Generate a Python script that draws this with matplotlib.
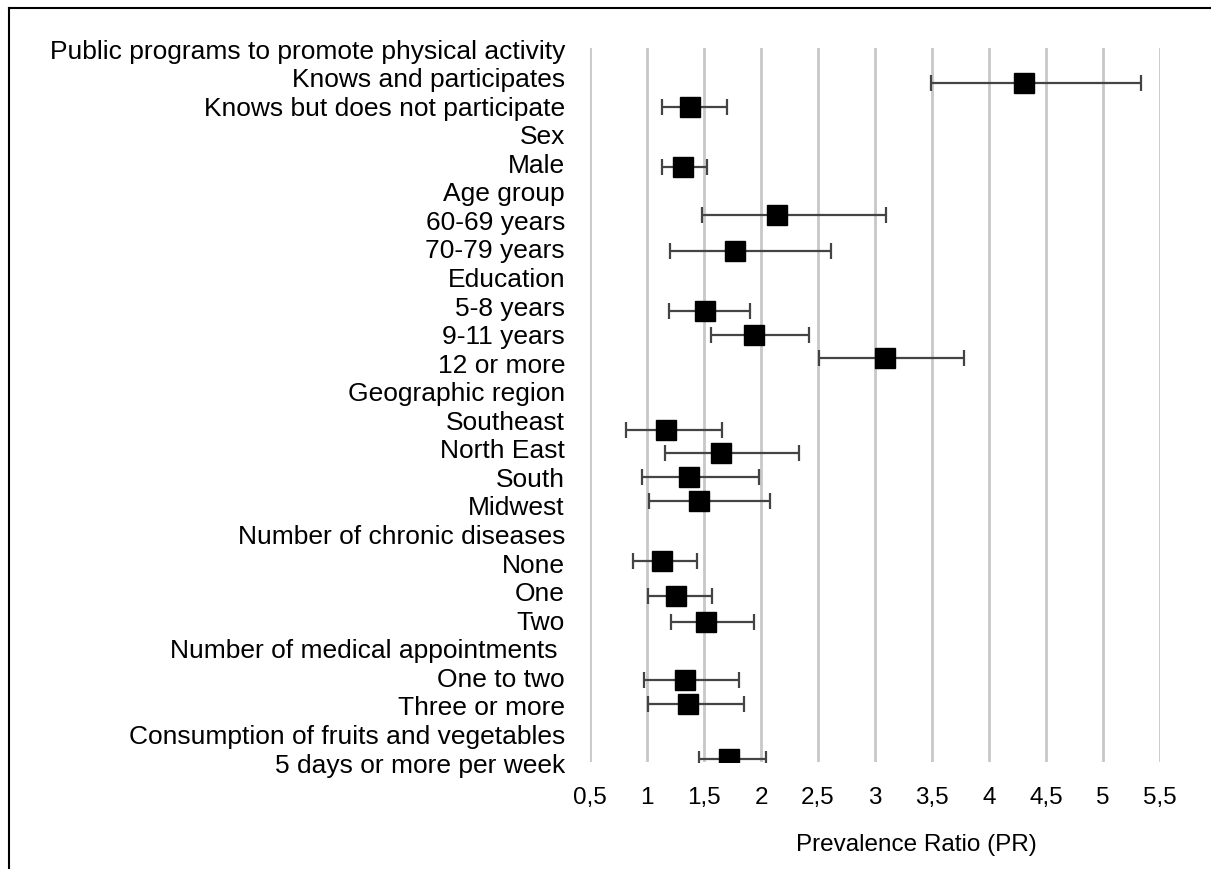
import matplotlib; matplotlib.use("Agg")
import matplotlib.pyplot as plt
from matplotlib.lines import Line2D
from matplotlib.ticker import FuncFormatter
import numpy as np

plt.rcParams["font.family"] = ["Liberation Sans", "DejaVu Sans"]

# row labels, top to bottom
row_labels = [
    "Public programs to promote physical activity", "Knows and participates",
    "Knows but does not participate", "Sex", "Male", "Age group", "60-69 years",
    "70-79 years", "Education", "5-8 years", "9-11 years", "12 or more",
    "Geographic region", "Southeast", "North East", "South", "Midwest",
    "Number of chronic diseases", "None", "One", "Two",
    "Number of medical appointments ", "One to two", "Three or more",
    "Consumption of fruits and vegetables", "5 days or more per week",
]

# estimates
pr      = [4.31, 1.38, 1.32, 2.14, 1.77, 1.51, 1.94, 3.09, 1.17, 1.65, 1.37, 1.46, 1.13, 1.25, 1.52, 1.33, 1.36, 1.72]
ci_low  = [3.49, 1.13, 1.13, 1.48, 1.20, 1.19, 1.56, 2.51, 0.82, 1.16, 0.96, 1.02, 0.88, 1.01, 1.21, 0.97, 1.01, 1.46]
ci_high = [5.33, 1.70, 1.53, 3.10, 2.61, 1.90, 2.42, 3.78, 1.66, 2.33, 1.98, 2.08, 1.44, 1.57, 1.94, 1.81, 1.85, 2.04]
pt_y    = [23.77, 22.93, 20.83, 19.15, 17.89, 15.79, 14.95, 14.15, 11.62, 10.82, 9.98, 9.14, 7.04, 5.81, 4.90, 2.87, 2.03, 0.1]
x_ticks = [0.5, 1, 1.5, 2, 2.5, 3, 3.5, 4, 4.5, 5, 5.5]

pr = np.array(pr); lo = np.array(ci_low); hi = np.array(ci_high)

fig = plt.figure(figsize=(12.11, 8.70), dpi=100)
ax = fig.add_axes([590/1211, 1 - 763/870, 570/1211, 714/870])

ax.errorbar(pr, pt_y, xerr=[pr - lo, hi - pr], fmt="s", color="black",
            markersize=14, ecolor="#444444", elinewidth=1.6,
            capsize=5.5, capthick=1.6, zorder=3)

ax.set_xlim(0.5, 5.5)
ax.set_ylim(0, 25)
ax.set_xticks(x_ticks)
ax.xaxis.set_major_formatter(FuncFormatter(lambda v, p: f"{v:g}".replace(".", ",")))
ax.grid(axis="x", color="#c8c8c8", lw=2, zorder=0)
ax.tick_params(axis="x", length=0, pad=17, labelsize=17.5)

n = len(row_labels)
ax.set_yticks([n - 1 - i for i in range(n)])
ax.set_yticklabels(row_labels)
ax.tick_params(axis="y", length=0, pad=18, labelsize=19)
ax.set_yticks(list(range(1, 26, 2)), minor=True)
ax.tick_params(axis="y", which="minor", direction="in", length=6, width=1.2, color="#c8c8c8")
for s in ax.spines.values():
    s.set_visible(False)

fig.text(916/1211, 1 - 845/870, "Prevalence Ratio (PR)", ha="center", va="center", fontsize=17.5)

# frame lines at top and left
fig.add_artist(Line2D([9/1211, 9/1211], [0, 1 - 9/870], color="black", lw=1.5))
fig.add_artist(Line2D([9/1211, 1], [1 - 9/870, 1 - 9/870], color="black", lw=1.5))

fig.savefig("out.png", dpi=100)
